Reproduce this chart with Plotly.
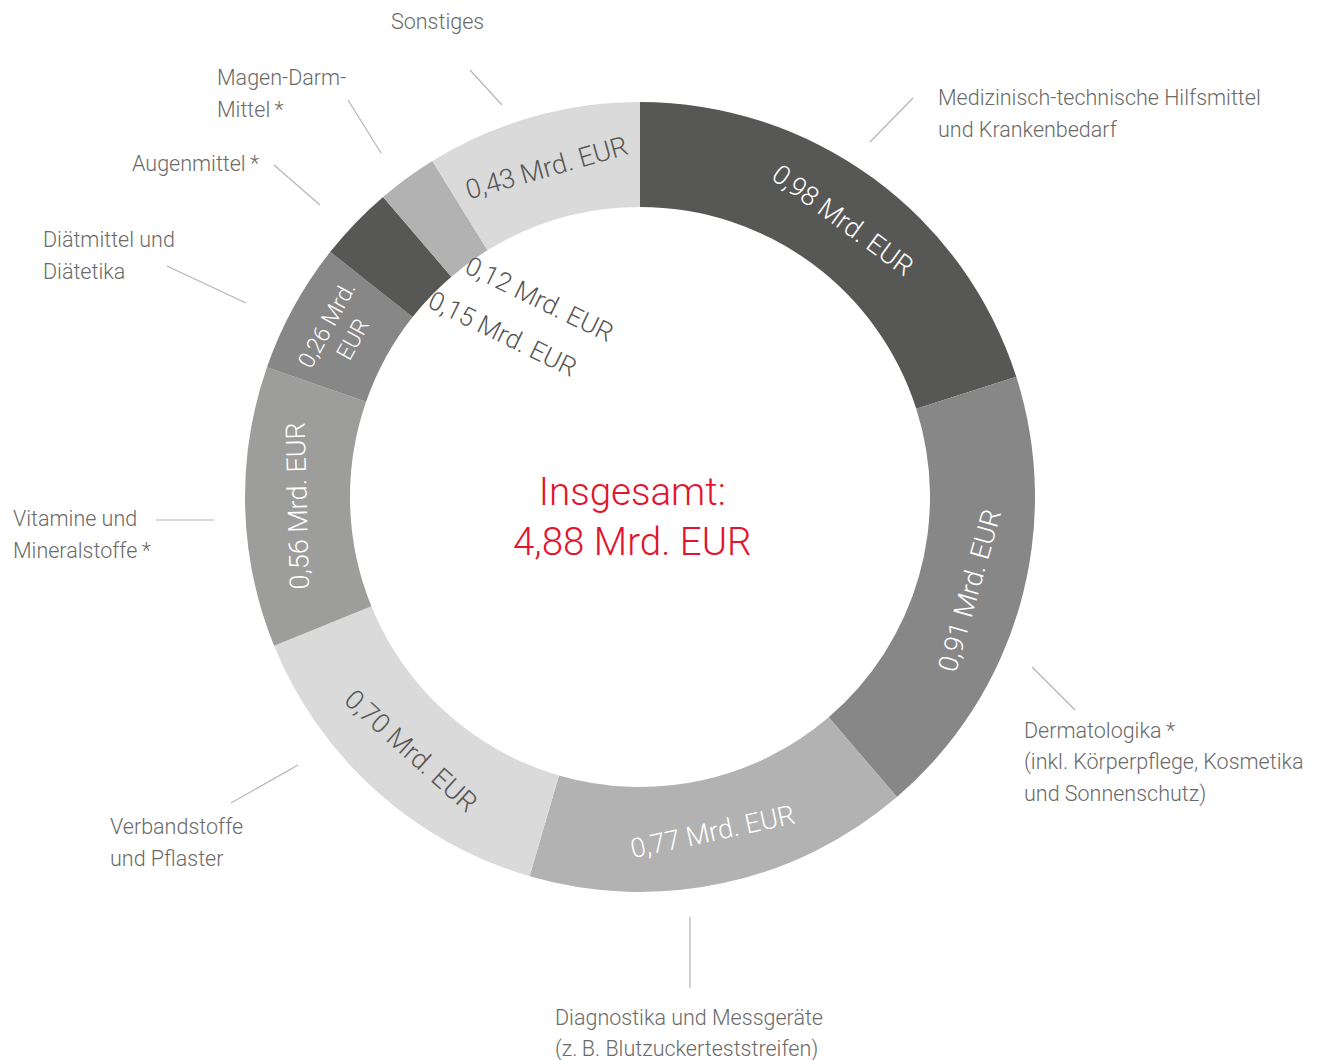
import math
import plotly.graph_objects as go

# The page body has an 8px margin: figure pixel = window pixel - 8
OFF = 8
W, H = 1325, 1060

categories = [
    "Medizinisch-technische Hilfsmittel und Krankenbedarf",
    "Dermatologika (inkl. Körperpflege, Kosmetika und Sonnenschutz)",
    "Diagnostika und Messgeräte (z. B. Blutzuckerteststreifen)",
    "Verbandstoffe und Pflaster",
    "Vitamine und Mineralstoffe",
    "Diätmittel und Diätetika",
    "Augenmittel",
    "Magen-Darm-Mittel",
    "Sonstiges",
]
values = [0.98, 0.91, 0.77, 0.70, 0.56, 0.26, 0.15, 0.12, 0.43]
value_labels = ["0,98 Mrd. EUR", "0,91 Mrd. EUR", "0,77 Mrd. EUR", "0,70 Mrd. EUR",
                "0,56 Mrd. EUR", "0,26 Mrd.<br>EUR", "0,15 Mrd. EUR", "0,12 Mrd. EUR",
                "0,43 Mrd. EUR"]
total_label = "Insgesamt:<br>4,88 Mrd. EUR"

colors = ["#575756", "#878787", "#b2b2b2", "#dadada", "#9d9d9c",
          "#878787", "#575756", "#b2b2b2", "#dadada"]
text_colors = ["#ffffff", "#ffffff", "#ffffff", "#575756", "#ffffff",
               "#ffffff", "#575756", "#575756", "#575756"]
text_sizes = [27, 27, 27, 27, 27, 23, 26, 26, 27]
in_ring = [True, True, True, True, True, True, False, False, True]

FONT = "Roboto, Liberation Sans, Arial, sans-serif"
WEIGHT = 300
LABEL_COLOR = "#6a6a69"
LINE_COLOR = "#b5b5b5"

# donut geometry (window pixels)
cx, cy, R_out, R_in = 640, 497, 395, 290
HOLE = R_in / R_out


def px(x):
    return (x - OFF) / W


def py(y):
    return 1 - (y - OFF) / H


fig = go.Figure(go.Pie(
    labels=categories,
    values=values,
    textinfo="none",
    marker=dict(colors=colors, line=dict(width=0)),
    hole=HOLE,
    sort=False,
    direction="clockwise",
    rotation=0,
    showlegend=False,
    hoverinfo="label+value",
    domain=dict(x=[px(cx - R_out), px(cx + R_out)], y=[py(cy + R_out), py(cy - R_out)]),
))

annotations = []

# value labels inside the ring, tangential, derived from the slice angles
total = sum(values)
cum = 0.0
r_mid = (R_out + R_in) / 2
for v, lab, col, sz, inside in zip(values, value_labels, text_colors, text_sizes, in_ring):
    mid = (cum + v / 2) / total * 360.0
    cum += v
    if not inside:
        continue
    a = math.radians(mid)
    x = cx + r_mid * math.sin(a)
    y = cy - r_mid * math.cos(a)
    if mid <= 90:
        ang = mid
    elif mid < 250:
        ang = mid - 180
    else:
        ang = mid - 360
    annotations.append(dict(
        x=px(x), y=py(y), xref="paper", yref="paper", text=lab, showarrow=False,
        xanchor="center", yanchor="middle", textangle=ang,
        font=dict(family=FONT, size=sz, color=col, weight=WEIGHT),
    ))

# small-slice values placed in the hole
annotations.append(dict(x=px(539), y=py(299), xref="paper", yref="paper",
                        text=value_labels[7], showarrow=False, textangle=26,
                        xanchor="center", yanchor="middle",
                        font=dict(family=FONT, size=text_sizes[7], color=text_colors[7], weight=WEIGHT)))
annotations.append(dict(x=px(503), y=py(334), xref="paper", yref="paper",
                        text=value_labels[6], showarrow=False, textangle=26,
                        xanchor="center", yanchor="middle",
                        font=dict(family=FONT, size=text_sizes[6], color=text_colors[6], weight=WEIGHT)))

# outer labels: (lines, x, first line centre y, anchor)
outer_labels = [
    (["Sonstiges"], 437, 21, "center"),
    (["Magen-Darm-", "Mittel\u2009*"], 215, 77, "left"),
    (["Augenmittel\u2009*"], 130, 164, "left"),
    (["Diätmittel und", "Diätetika"], 41, 240, "left"),
    (["Vitamine und", "Mineralstoffe\u2009*"], 11, 518, "left"),
    (["Verbandstoffe", "und Pflaster"], 108, 826, "left"),
    (["Diagnostika und Messgeräte", "(z.\u2009B. Blutzuckerteststreifen)"], 553, 1017, "left"),
    (["Dermatologika\u2009*", "(inkl. Körperpflege, Kosmetika", "und Sonnenschutz)"], 1022, 730, "left"),
    (["Medizinisch-technische Hilfsmittel", "und Krankenbedarf"], 936, 98, "left"),
]
leader_lines = [
    (470, 70, 502, 105),
    (348, 100, 381, 153),
    (274, 165, 320, 205),
    (167, 266, 246, 303),
    (156, 520, 214, 520),
    (231, 803, 298, 765),
    (690, 917, 690, 988),
    (1032, 667, 1075, 710),
    (870, 142, 913, 98),
]

for lines, x0, y0, anchor in outer_labels:
    for i, ln in enumerate(lines):
        annotations.append(dict(
            x=px(x0), y=py(y0 + 32 * i), xref="paper", yref="paper",
            text=ln, showarrow=False, xanchor=anchor, yanchor="middle",
            font=dict(family=FONT, size=21.5, color=LABEL_COLOR, weight=WEIGHT),
        ))

# total in the centre
annotations.append(dict(x=px(632), y=py(516), xref="paper", yref="paper",
                        text=total_label, showarrow=False,
                        xanchor="center", yanchor="middle",
                        font=dict(family=FONT, size=38.5, color="#e3142d", weight=WEIGHT)))

shapes = [dict(type="line", xref="paper", yref="paper",
               x0=px(a), y0=py(b), x1=px(c), y1=py(d),
               line=dict(color=LINE_COLOR, width=1.2)) for a, b, c, d in leader_lines]

fig.update_layout(
    width=W, height=H,
    margin=dict(l=0, r=0, t=0, b=0),
    paper_bgcolor="#ffffff",
    plot_bgcolor="#ffffff",
    annotations=annotations,
    shapes=shapes,
    font=dict(family=FONT),
)

fig.write_html("out.html")
